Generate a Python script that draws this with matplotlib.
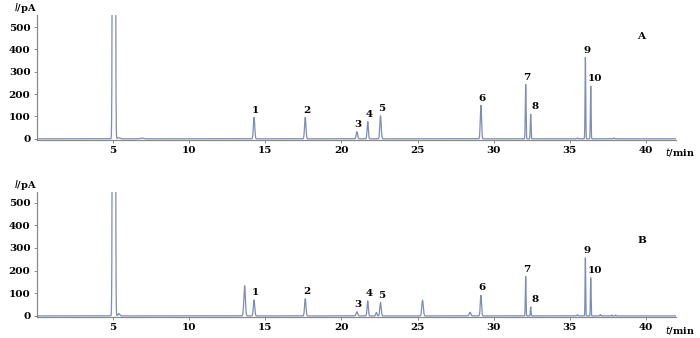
import matplotlib
matplotlib.use("Agg")
import matplotlib.pyplot as plt
import numpy as np

# Peak tables: retention time (min), height (pA), width (sigma, min)
a_times = [5.07, 5.4, 6.9, 14.27, 17.63, 21.02, 21.73, 22.57, 29.16, 32.1, 32.43, 35.5, 36.02, 36.37, 37.9]
a_heights = [30000, 5, 3, 96, 96, 32, 77, 103, 150, 243, 110, 4, 364, 236, 4]
a_widths = [0.044, 0.08, 0.1, 0.045, 0.045, 0.045, 0.04, 0.045, 0.04, 0.025, 0.025, 0.03, 0.022, 0.022, 0.03]

b_times = [5.07, 5.4, 13.65, 14.27, 17.63, 21.02, 21.73, 22.3, 22.57, 25.33, 28.45, 29.16,
           32.1, 32.43, 35.5, 36.02, 36.37, 37.0, 37.75, 38.0]
b_heights = [30000, 10, 133, 70, 76, 18, 66, 15, 59, 69, 16, 91, 173, 40, 5, 256, 168, 6, 4, 4]
b_widths = [0.044, 0.06, 0.05, 0.045, 0.045, 0.05, 0.04, 0.04, 0.045, 0.05, 0.05, 0.04,
            0.022, 0.022, 0.03, 0.02, 0.02, 0.03, 0.02, 0.02]

# Numbered peaks
num_labels = ["1", "2", "3", "4", "5", "6", "7", "8", "9", "10"]
num_times = [14.27, 17.63, 21.02, 21.73, 22.57, 29.16, 32.1, 32.43, 36.02, 36.37]
a_num_heights = [96, 96, 32, 77, 103, 150, 243, 110, 364, 236]
b_num_heights = [70, 76, 18, 66, 59, 91, 173, 40, 256, 168]

x_ticks = [5, 10, 15, 20, 25, 30, 35, 40]
y_ticks = [0, 100, 200, 300, 400, 500]

line_color = "#7d8db5"
axis_color = "#8a8a8a"
tick_font = {"family": "DejaVu Serif", "weight": "bold", "size": 7.5}


def trace(t, times, heights, widths):
    y = np.zeros_like(t)
    for c, h, w in zip(times, heights, widths):
        y += h * np.exp(-0.5 * ((t - c) / w) ** 2)
    return y


t = np.linspace(0, 42, 30000)

fig = plt.figure(figsize=(7, 3.38), dpi=100)
ax_a = fig.add_axes([0.0524, 0.586, 0.914, 0.370])
ax_b = fig.add_axes([0.0524, 0.062, 0.914, 0.371])

panels = [
    (ax_a, a_times, a_heights, a_widths, a_num_heights, "A", 460, 555),
    (ax_b, b_times, b_heights, b_widths, b_num_heights, "B", 333, 548),
]

for ax, times, heights, widths, num_heights, tag, tag_y, ytop in panels:
    ax.plot(t, trace(t, times, heights, widths), color=line_color, lw=0.9)
    ax.set_xlim(0, 42)
    ax.set_ylim(-5, ytop)
    for s in ["top", "right"]:
        ax.spines[s].set_visible(False)
    for s in ["left", "bottom"]:
        ax.spines[s].set_color(axis_color)
        ax.spines[s].set_linewidth(0.9)
    ax.set_xticks(x_ticks)
    ax.set_yticks(y_ticks)
    ax.set_xticklabels([str(v) for v in x_ticks], fontdict=tick_font)
    ax.set_yticklabels([str(v) for v in y_ticks], fontdict=tick_font)
    ax.tick_params(length=2.5, width=0.7, color=axis_color, pad=2)
    for lab, x, h in zip(num_labels, num_times, num_heights):
        dx = 3 if lab in ("8", "10") else 1
        ax.annotate(lab, (x, h), xytext=(dx, 2), textcoords="offset points",
                    ha="center", va="bottom", fontsize=7.5, fontweight="bold",
                    family="DejaVu Serif")
    ax.text(39.7, tag_y, tag, ha="center", va="center", fontsize=7.5,
            fontweight="bold", family="DejaVu Serif")
    ax.text(0.982, -0.1, r"$t$/min", transform=ax.transAxes, ha="left", va="center",
            fontsize=7, fontweight="bold", family="DejaVu Serif")
    ax.text(0.0, 1.0, r"$I$/pA", transform=ax.transAxes, ha="right", va="bottom",
            fontsize=7, fontweight="bold", family="DejaVu Serif")

fig.savefig("out.png", dpi=100)
